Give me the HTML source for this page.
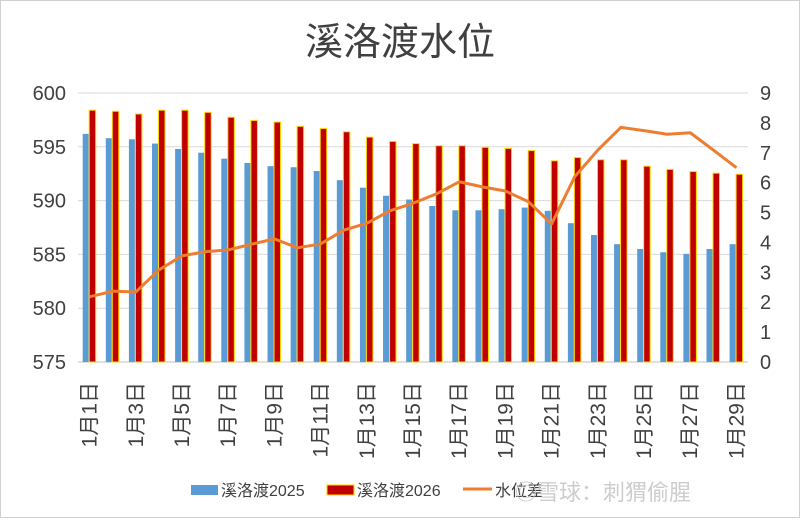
<!DOCTYPE html>
<html><head><meta charset="utf-8"><style>
body{margin:0;background:#fff;}
svg{display:block;font-family:"Liberation Sans","Noto Sans CJK SC",sans-serif;}
</style></head><body>
<svg id="chart" width="800" height="518" viewBox="0 0 800 518">
<rect x="0.5" y="0.5" width="799" height="517" fill="#fff" stroke="#d0d0d0"/>
<text x="400" y="55" text-anchor="middle" font-size="38" fill="#404040">溪洛渡水位</text>
<g id="grid"></g><g id="bars"></g><g id="line"></g><g id="axes"></g>
<g font-size="16" fill="#404040">
<rect x="191" y="485" width="27" height="10" fill="#5b9bd5"/>
<text x="221" y="496">溪洛渡2025</text>
<rect x="327" y="485" width="27" height="10" fill="#c00000" stroke="#ffd700" stroke-width="1"/>
<text x="357" y="496">溪洛渡2026</text>
<line x1="463" y1="489" x2="492" y2="489" stroke="#ed7d31" stroke-width="3"/>
<text x="495" y="496">水位差</text>
</g>
<text x="515" y="500" font-size="22" fill="#c8c8c8" opacity="0.9">◎雪球：刺猬偷腥</text>
</svg>
<script>
const categories=[];for(let i=1;i<=29;i++)categories.push('1月'+i+'日');
const series2025=[596.2,595.8,595.7,595.3,594.8,594.45,593.9,593.5,593.2,593.1,592.75,591.9,591.2,590.45,590.1,589.5,589.1,589.1,589.2,589.35,589.05,587.9,586.8,585.95,585.5,585.2,585.05,585.5,585.95];
const series2026=[598.4,598.3,598.05,598.4,598.4,598.2,597.75,597.45,597.3,596.9,596.7,596.4,595.9,595.5,595.3,595.1,595.1,594.95,594.85,594.65,593.7,594.0,593.8,593.8,593.2,592.9,592.7,592.55,592.45];
const diffValues=[2.18,2.37,2.34,3.08,3.55,3.69,3.75,3.94,4.12,3.82,3.95,4.41,4.64,5.06,5.31,5.62,6.03,5.86,5.72,5.36,4.62,6.2,7.09,7.85,7.74,7.62,7.67,7.09,6.5];
const leftTicks=[575,580,585,590,595,600];
const rightTicks=[0,1,2,3,4,5,6,7,8,9];
const NS='http://www.w3.org/2000/svg';
const X0=78,X1=748,YT=93,YB=362;
const cw=(X1-X0)/categories.length;
const yL=v=>YB-(v-575)/25*(YB-YT);
const yR=v=>YB-v/9*(YB-YT);
const xC=i=>X0+cw*(i+0.5);
function mk(tag,attrs,parent){const e=document.createElementNS(NS,tag);for(const k in attrs)e.setAttribute(k,attrs[k]);parent.appendChild(e);return e;}
const grid=document.getElementById('grid'),bars=document.getElementById('bars'),line=document.getElementById('line'),axes=document.getElementById('axes');
leftTicks.forEach(t=>{
  const g=mk('line',{x1:X0,x2:X1,y1:yL(t),y2:yL(t),stroke:t===575?'#bfbfbf':'#d9d9d9','stroke-width':1},grid);
  
  
  const l=mk('text',{x:66,y:yL(t)+7,'text-anchor':'end','font-size':20,fill:'#404040'},axes);
  l.textContent=t;
  
  
});
rightTicks.forEach(t=>{
  const l=mk('text',{x:760,y:yR(t)+7,'font-size':20,fill:'#404040'},axes);
  l.textContent=t;
  
  
});
categories.forEach((c,i)=>{
  const x=X0+cw*i;
  const b=mk('rect',{x:x+4.7,y:yL(series2025[i]),width:6,height:YB-yL(series2025[i]),fill:'#5b9bd5'},bars);
  
  
  const r=mk('rect',{x:x+11.2,y:yL(series2026[i]),width:6.5,height:YB-yL(series2026[i]),fill:'#c00000',stroke:'#ffd700','stroke-width':1},bars);
  
  
  if(i%2===0){
    const t=mk('text',{transform:'translate('+(xC(i)+7)+',382) rotate(-90)','text-anchor':'end','font-size':21,fill:'#404040'},axes);
    t.textContent=c;
    
    
  }
});
const p=mk('polyline',{points:diffValues.map((v,i)=>xC(i)+','+yR(v)).join(' '),fill:'none',stroke:'#ed7d31','stroke-width':3,'stroke-linejoin':'round'},line);


</script>
</body></html>
